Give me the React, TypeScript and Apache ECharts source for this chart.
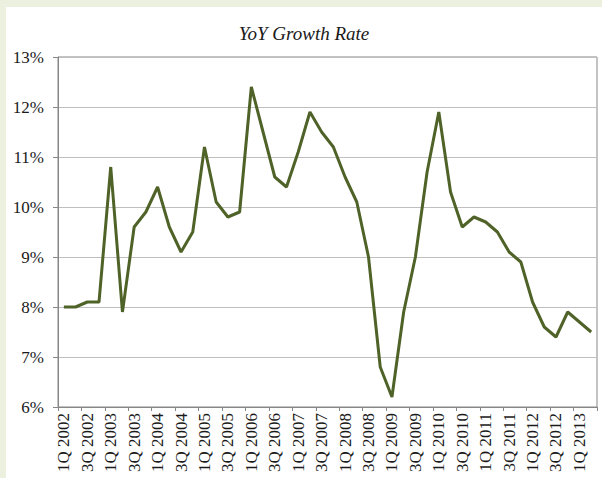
import React, { useEffect, useRef } from "react";
import * as echarts from "echarts";

const titleText = "YoY Growth Rate";

const quarters: string[] = [
  "1Q 2002", "2Q 2002", "3Q 2002", "4Q 2002",
  "1Q 2003", "2Q 2003", "3Q 2003", "4Q 2003",
  "1Q 2004", "2Q 2004", "3Q 2004", "4Q 2004",
  "1Q 2005", "2Q 2005", "3Q 2005", "4Q 2005",
  "1Q 2006", "2Q 2006", "3Q 2006", "4Q 2006",
  "1Q 2007", "2Q 2007", "3Q 2007", "4Q 2007",
  "1Q 2008", "2Q 2008", "3Q 2008", "4Q 2008",
  "1Q 2009", "2Q 2009", "3Q 2009", "4Q 2009",
  "1Q 2010", "2Q 2010", "3Q 2010", "4Q 2010",
  "1Q 2011", "2Q 2011", "3Q 2011", "4Q 2011",
  "1Q 2012", "2Q 2012", "3Q 2012", "4Q 2012",
  "1Q 2013", "2Q 2013",
];

const growthRate: number[] = [
  8.0, 8.0, 8.1, 8.1,
  10.8, 7.9, 9.6, 9.9,
  10.4, 9.6, 9.1, 9.5,
  11.2, 10.1, 9.8, 9.9,
  12.4, 11.5, 10.6, 10.4,
  11.1, 11.9, 11.5, 11.2,
  10.6, 10.1, 9.0, 6.8,
  6.2, 7.9, 9.0, 10.7,
  11.9, 10.3, 9.6, 9.8,
  9.7, 9.5, 9.1, 8.9,
  8.1, 7.6, 7.4, 7.9,
  7.7, 7.5,
];

const yMin = 6;
const yMax = 13;
const yStep = 1;

const FONT = "Liberation Serif";

export default function App() {
  const ref = useRef<HTMLDivElement>(null);

  useEffect(() => {
    if (!ref.current) return;
    const chart = echarts.init(ref.current, null, { renderer: "svg" });
    chart.setOption({
      animation: false,
      backgroundColor: "#ffffff",
      title: {
        text: titleText,
        left: "center",
        top: 12,
        textStyle: {
          fontFamily: FONT,
          fontStyle: "italic",
          fontWeight: "normal",
          fontSize: 19,
          color: "#1a1a1a",
        },
      },
      grid: {
        left: 52,
        right: 5,
        top: 50,
        bottom: 71,
        show: true,
        borderColor: "#878787",
        borderWidth: 1,
        backgroundColor: "transparent",
      },
      xAxis: {
        type: "category",
        data: quarters,
        boundaryGap: true,
        axisLine: { show: true, lineStyle: { color: "#878787", width: 1 } },
        axisTick: {
          show: true,
          interval: 1,
          length: 4,
          lineStyle: { color: "#878787" },
        },
        axisLabel: {
          interval: 1,
          rotate: 90,
          margin: 6,
          fontFamily: FONT,
          fontSize: 17,
          color: "#1a1a1a",
        },
        splitLine: { show: false },
      },
      yAxis: {
        type: "value",
        min: yMin,
        max: yMax,
        interval: yStep,
        axisLine: { show: true, lineStyle: { color: "#878787", width: 1 } },
        axisTick: { show: true, length: 5, lineStyle: { color: "#878787" } },
        axisLabel: {
          formatter: "{value}%",
          margin: 14,
          fontFamily: FONT,
          fontSize: 17,
          color: "#1a1a1a",
        },
        splitLine: { show: true, lineStyle: { color: "#BFBFBF", width: 1 } },
      },
      series: [
        {
          type: "line",
          data: growthRate,
          showSymbol: false,
          symbol: "none",
          lineStyle: { color: "#4F6228", width: 3 },
        },
      ],
    });
    return () => chart.dispose();
  }, []);

  return (
    <div
      style={{
        position: "fixed",
        left: 0,
        top: 0,
        width: 602,
        height: 478,
        background: "#EBF1DE",
      }}
    >
      <div
        ref={ref}
        style={{
          position: "absolute",
          left: 6,
          top: 7,
          width: 596,
          height: 471,
        }}
      />
    </div>
  );
}
